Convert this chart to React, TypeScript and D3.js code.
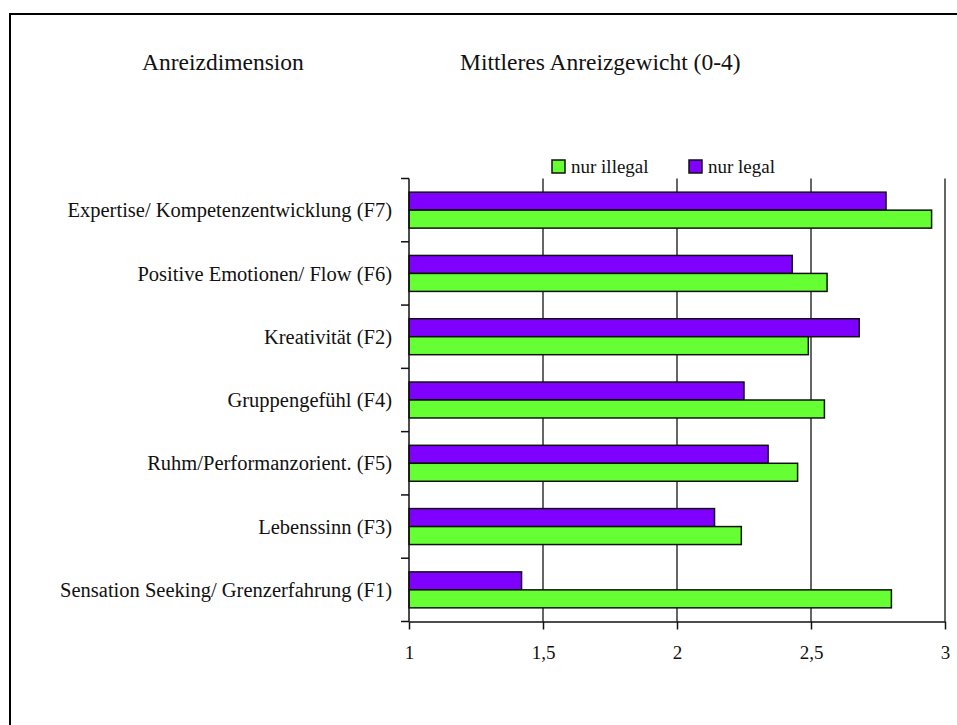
import * as d3 from 'd3';
import { useEffect, useRef } from 'react';

const CATEGORIES = [
  'Expertise/ Kompetenzentwicklung (F7)',
  'Positive Emotionen/ Flow (F6)',
  'Kreativität (F2)',
  'Gruppengefühl (F4)',
  'Ruhm/Performanzorient. (F5)',
  'Lebenssinn (F3)',
  'Sensation Seeking/ Grenzerfahrung (F1)'
];
const NUR_LEGAL = [2.78, 2.43, 2.68, 2.25, 2.34, 2.14, 1.42];
const NUR_ILLEGAL = [2.95, 2.56, 2.49, 2.55, 2.45, 2.24, 2.80];
const X_TICKS = [1, 1.5, 2, 2.5, 3];
const X_TICK_LABELS = ['1', '1,5', '2', '2,5', '3'];

const SERIES = [
  { key: 'legal', label: 'nur legal', values: NUR_LEGAL, fill: '#7f00ff' },
  { key: 'illegal', label: 'nur illegal', values: NUR_ILLEGAL, fill: '#66ff33' }
];
const LEGEND_ORDER = ['illegal', 'legal'];

const WIDTH = 957;
const HEIGHT = 725;
const FONT = '"Liberation Serif", "Times New Roman", serif';

function App() {
  const svgRef = useRef<SVGSVGElement>(null);

  useEffect(() => {
    document.body.style.margin = '0';
    if (!svgRef.current) { return; }

    const svg = d3.select(svgRef.current);
    svg.selectAll('*').remove();

    const plot = { left: 409, right: 945, top: 178.5, bottom: 621.5 };

    // outer frame, runs off the right and bottom edge
    svg.append('rect')
      .attr('x', 10)
      .attr('y', 14)
      .attr('width', WIDTH)
      .attr('height', HEIGHT)
      .attr('fill', 'none')
      .attr('stroke', '#000')
      .attr('stroke-width', 2);

    const x = d3.scaleLinear().domain([1, 3]).range([plot.left, plot.right]);
    const y = d3.scaleBand().domain(CATEGORIES).range([plot.top, plot.bottom]);
    const inner = d3.scaleBand()
      .domain(SERIES.map(s => s.key))
      .range([0, y.bandwidth()])
      .paddingInner(0)
      .paddingOuter(0.76);

    // gridlines
    svg.append('g')
      .selectAll('line')
      .data(X_TICKS.slice(1))
      .join('line')
      .attr('x1', d => x(d))
      .attr('x2', d => x(d))
      .attr('y1', plot.top)
      .attr('y2', plot.bottom)
      .attr('stroke', '#333')
      .attr('stroke-width', 1.5);

    // bars
    SERIES.forEach(s => {
      svg.append('g')
        .selectAll('rect')
        .data(s.values)
        .join('rect')
        .attr('x', x(1))
        .attr('y', (_, i) => (y(CATEGORIES[i]) ?? 0) + (inner(s.key) ?? 0))
        .attr('width', d => x(d) - x(1))
        .attr('height', inner.bandwidth())
        .attr('fill', s.fill)
        .attr('stroke', '#111')
        .attr('stroke-width', 1.5);
    });

    // x axis
    const xAxis = svg.append('g')
      .attr('transform', `translate(0,${plot.bottom})`)
      .call(d3.axisBottom(x).tickValues(X_TICKS).tickSize(8).tickSizeOuter(0)
        .tickFormat((_, i) => X_TICK_LABELS[i]));
    xAxis.select('.domain').attr('stroke', '#111').attr('stroke-width', 1.5);
    xAxis.selectAll('line').attr('stroke', '#111').attr('stroke-width', 1.5);
    xAxis.selectAll('text')
      .attr('font-family', FONT)
      .attr('font-size', 19)
      .attr('fill', '#111')
      .attr('y', 24)
      .attr('dy', '0.71em');

    // y axis with ticks on the band edges
    const yEdges = CATEGORIES.map(c => y(c) ?? 0).concat([plot.bottom]);
    svg.append('line')
      .attr('x1', plot.left)
      .attr('x2', plot.left)
      .attr('y1', plot.top)
      .attr('y2', plot.bottom)
      .attr('stroke', '#111')
      .attr('stroke-width', 1.5);
    svg.append('g')
      .selectAll('line')
      .data(yEdges)
      .join('line')
      .attr('x1', plot.left - 8)
      .attr('x2', plot.left)
      .attr('y1', d => d)
      .attr('y2', d => d)
      .attr('stroke', '#111')
      .attr('stroke-width', 1.5);

    svg.append('g')
      .selectAll('text')
      .data(CATEGORIES)
      .join('text')
      .attr('x', 392)
      .attr('y', d => (y(d) ?? 0) + y.bandwidth() / 2)
      .attr('dy', '0.35em')
      .attr('text-anchor', 'end')
      .attr('font-family', FONT)
      .attr('font-size', 20.5)
      .attr('fill', '#111')
      .text(d => d);

    // titles
    svg.append('text')
      .attr('x', 142)
      .attr('y', 70)
      .attr('font-family', FONT)
      .attr('font-size', 23.5)
      .attr('fill', '#111')
      .text('Anreizdimension');
    svg.append('text')
      .attr('x', 460)
      .attr('y', 70)
      .attr('font-family', FONT)
      .attr('font-size', 23.5)
      .attr('fill', '#111')
      .text('Mittleres Anreizgewicht (0-4)');

    // legend
    const legendX = [552, 689];
    LEGEND_ORDER.forEach((key, i) => {
      const s = SERIES.find(d => d.key === key)!;
      svg.append('rect')
        .attr('x', legendX[i])
        .attr('y', 160)
        .attr('width', 13)
        .attr('height', 13)
        .attr('fill', s.fill)
        .attr('stroke', '#111')
        .attr('stroke-width', 1.5);
      svg.append('text')
        .attr('x', legendX[i] + 19)
        .attr('y', 173)
        .attr('font-family', FONT)
        .attr('font-size', 19)
        .attr('fill', '#111')
        .text(s.label);
    });
  }, []);

  return (
    <svg
      ref={svgRef}
      width={WIDTH}
      height={HEIGHT}
      style={{ display: 'block', background: '#fff' }}
    />
  );
}

export default App;
